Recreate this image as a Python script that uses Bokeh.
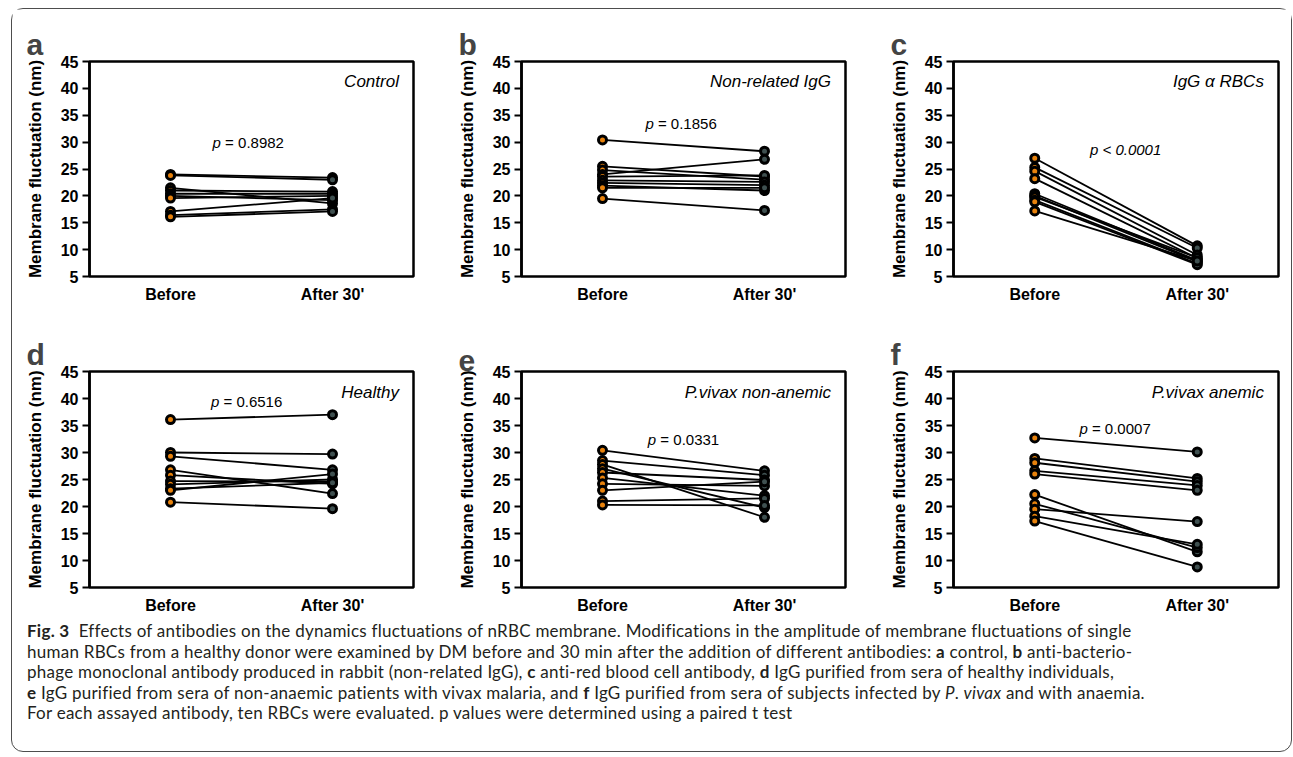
from bokeh.plotting import figure
from bokeh.models import FixedTicker, Div
from bokeh.layouts import row, column
from bokeh.core.properties import value
from bokeh.embed import file_html
from bokeh.resources import INLINE

# ---------------- data ----------------
categories = ["Before", "After 30'"]
y_ticks = [5, 10, 15, 20, 25, 30, 35, 40, 45]

letters = ["a", "b", "c", "d", "e", "f"]
conditions = ["Control", "Non-related IgG", "IgG \u03b1 RBCs",
              "Healthy", "P.vivax non-anemic", "P.vivax anemic"]
p_values = ["0.8982", "0.1856", "0.0001", "0.6516", "0.0331", "0.0007"]
p_signs = ["=", "=", "<", "=", "=", "="]

before_a = [24.0, 23.8, 21.5, 21.0, 20.4, 20.0, 19.6, 17.1, 16.4, 16.1]
after_a = [23.4, 23.0, 18.6, 20.8, 20.4, 19.2, 20.0, 19.6, 17.5, 17.1]

before_b = [30.4, 25.5, 24.8, 24.0, 23.6, 22.9, 22.4, 21.9, 21.5, 19.5]
after_b = [28.3, 23.6, 23.0, 26.8, 23.8, 22.6, 22.0, 21.0, 21.5, 17.3]

before_c = [27.0, 25.3, 24.6, 23.2, 20.4, 20.0, 19.8, 19.2, 18.9, 17.2]
after_c = [10.7, 10.3, 9.0, 8.4, 8.0, 7.8, 8.5, 7.4, 7.2, 7.9]

before_d = [36.1, 30.0, 29.3, 26.8, 25.8, 24.7, 24.1, 23.3, 23.0, 20.8]
after_d = [37.0, 29.7, 26.8, 22.4, 24.2, 24.6, 25.0, 24.4, 26.0, 19.6]

before_e = [30.4, 28.5, 27.8, 27.0, 26.3, 25.3, 24.2, 23.0, 21.0, 20.3]
after_e = [26.6, 25.8, 18.0, 19.8, 24.9, 22.0, 23.8, 24.6, 21.5, 20.2]

before_f = [32.7, 28.9, 28.1, 26.6, 26.0, 22.2, 20.5, 19.5, 18.2, 17.3]
after_f = [30.1, 25.2, 24.6, 23.9, 23.0, 11.6, 12.4, 17.2, 13.0, 8.8]

befores = [before_a, before_b, before_c, before_d, before_e, before_f]
afters = [after_a, after_b, after_c, after_d, after_e, after_f]

# ---------------- layout / style ----------------
FONT = "Liberation Sans"
# per-panel p-text placement (data units) and frame borders
p_pos = [(0.76, 29.9), (0.765, 33.4), (0.84, 28.6), (0.75, 39.4), (0.78, 32.4), (0.775, 34.4)]
borders = [(77, 18), (90, 17), (91, 13)]
frame_w = [324, 324, 325]

cat_x = {c: i + 0.5 for i, c in enumerate(categories)}


def make_panel(i, top_row):
    bl, br = borders[i % 3]
    if top_row:
        bt, fh, bb = 52, 215, 33
    else:
        bt, fh, bb = 62, 216, 32
    p = figure(frame_width=frame_w[i % 3], frame_height=fh,
               x_range=(0, 2), y_range=(5, 45),
               min_border_left=bl, min_border_right=br,
               min_border_top=bt, min_border_bottom=bb,
               output_backend="svg", toolbar_location=None, tools="")
    p.grid.visible = False
    p.background_fill_color = "white"
    p.border_fill_color = "white"
    p.outline_line_color = "black"
    p.outline_line_width = 2.5
    p.outline_line_alpha = 1

    # panel letter
    p.title.text = letters[i]
    p.title.text_font = FONT
    p.title.text_font_size = "30px"
    p.title.text_font_style = "bold"
    p.title.align = "left"
    p.title.offset = -63
    p.title.standoff = 2

    # y axis
    ya = p.yaxis[0]
    ya.ticker = FixedTicker(ticks=y_ticks)
    ya.minor_tick_line_color = None
    ya.major_tick_out = 7
    ya.major_tick_in = 0
    ya.major_tick_line_width = 2
    ya.axis_line_width = 2.5
    ya.major_label_text_font = FONT
    ya.major_label_text_font_style = "bold"
    ya.major_label_text_font_size = "16px"
    ya.major_label_text_color = "black"
    ya.major_label_standoff = 4
    ya.axis_label = "Membrane fluctuation (nm)"
    ya.axis_label_text_font = FONT
    ya.axis_label_text_font_style = "bold"
    ya.axis_label_text_font_size = "17px"
    ya.axis_label_text_color = "black"
    ya.axis_label_standoff = 13

    # x axis
    xa = p.xaxis[0]
    xa.ticker = FixedTicker(ticks=[cat_x[c] for c in categories])
    xa.major_label_overrides = {cat_x[c]: c for c in categories}
    xa.minor_tick_line_color = None
    xa.major_tick_line_color = None
    xa.axis_line_color = None
    xa.major_label_text_font = FONT
    xa.major_label_text_font_style = "bold"
    xa.major_label_text_font_size = "16px"
    xa.major_label_text_color = "black"
    xa.major_label_standoff = 3

    b = befores[i]
    a = afters[i]
    n = len(b)
    xb = [cat_x[categories[0]]] * n
    xa_ = [cat_x[categories[1]]] * n
    p.segment(x0=xb, y0=b, x1=xa_, y1=a, line_color="black", line_width=1.8)
    p.scatter(x=xb, y=b, size=8, fill_color="#E8820C", line_color="black", line_width=3)
    p.scatter(x=xa_, y=a, size=8, fill_color="#3F5050", line_color="black", line_width=3)

    # condition label
    p.text(x=[1.91], y=[41.2], text=[conditions[i]], text_align="right",
           text_baseline="middle", text_font=value(FONT), text_font_style="italic",
           text_font_size="17px", text_color="black")

    # p value
    px, py = p_pos[i]
    p.text(x=[px], y=[py], text=["p"], text_align="left", text_baseline="middle",
           text_font=value(FONT), text_font_style="italic", text_font_size="15px",
           text_color="black")
    rest_style = "italic" if p_signs[i] == "<" else "normal"
    p.text(x=[px], y=[py], text=[p_signs[i] + " " + p_values[i]],
           text_align="left", text_baseline="middle", x_offset=12.5,
           text_font=value(FONT), text_font_style=rest_style, text_font_size="15px",
           text_color="black")
    return p


panels = [make_panel(i, i < 3) for i in range(6)]

caption_lines = [
    "<b>Fig.&nbsp;3</b>&nbsp;&nbsp;Effects of antibodies on the dynamics fluctuations of nRBC membrane. Modifications in the amplitude of membrane fluctuations of single",
    "human RBCs from a healthy donor were examined by DM before and 30 min after the addition of different antibodies: <b>a</b> control, <b>b</b> anti-bacterio-",
    "phage monoclonal antibody produced in rabbit (non-related IgG), <b>c</b> anti-red blood cell antibody, <b>d</b> IgG purified from sera of healthy individuals,",
    "<b>e</b> IgG purified from sera of non-anaemic patients with vivax malaria, and <b>f</b> IgG purified from sera of subjects infected by <i>P</i>. <i>vivax</i> and with anaemia.",
    "For each assayed antibody, ten RBCs were evaluated. p values were determined using a paired t test",
]
cap_html = ('<div style="font-family:Lato,sans-serif;font-size:17px;line-height:20.5px;'
            'letter-spacing:0.25px;color:#231F20;padding-left:15px;padding-top:2px;'
            'white-space:nowrap;">'
            + "<br>".join(caption_lines) + "</div>")
cap = Div(text=cap_html, width=1279, height=132, margin=(0, 0, 0, 0))

layout = column(row(*panels[:3]), row(*panels[3:]), cap,
                styles={"border": "1px solid #4d4d4d", "border-radius": "12px",
                        "background-color": "white"},
                margin=(8, 0, 0, 11))

open("out.html", "w").write(file_html(layout, INLINE))
